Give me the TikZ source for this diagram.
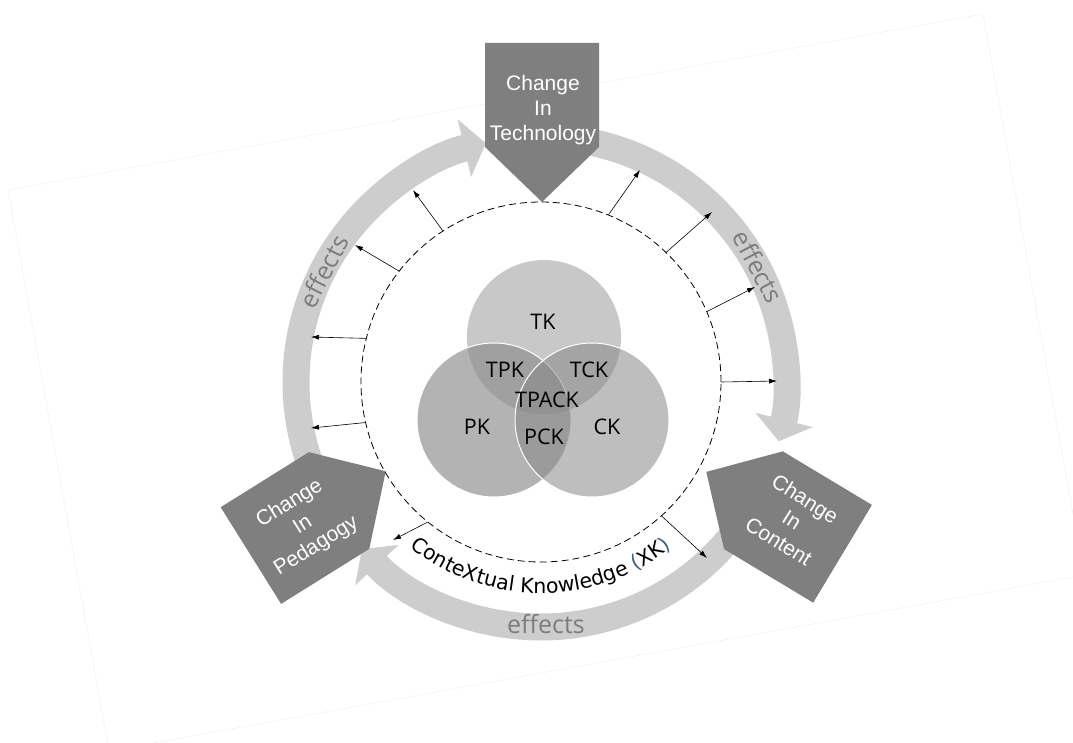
\documentclass[tikz,border=0pt]{standalone}
\usepackage{fontspec}
\setmainfont{Liberation Sans}
\newfontfamily\vennfont{Open Sans}
\newfontfamily\xkfont{DejaVu Sans}
\usetikzlibrary{arrows.meta,decorations.text}
\definecolor{boxgray}{HTML}{7F7F7F}
\definecolor{ringgray}{HTML}{CDCDCD}
\definecolor{effgray}{HTML}{7C7C7C}
\definecolor{xkblue}{HTML}{3E5F80}
\definecolor{tkgray}{HTML}{C8C8C8}
\definecolor{pkgray}{HTML}{8D8D8D}
\definecolor{ckgray}{HTML}{888888}
\newcommand{\xksize}{\xkfont\fontsize{20.5}{23}\selectfont}
\tikzset{
  changebox/.style={fill=boxgray},
  changetext/.style={text=white,align=center,font=\fontsize{21}{25}\selectfont},
  effring/.style={draw=ringgray,line width=27pt,-{Triangle[length=22pt,width=58pt]}},
  efftext/.style={text=effgray,font=\vennfont\fontsize{25}{28}\selectfont},
  venncircle/.style={circle,minimum size=154pt,inner sep=0pt},
  vennlabel/.style={font=\vennfont\fontsize{21.5}{24}\selectfont},
  outarrow/.style={-{Latex[length=8pt,width=5pt]},line width=0.6pt},
}

\begin{document}
\begin{tikzpicture}[x=1pt,y=1pt]
  \clip (-541,-360) rectangle (532,382);
  % faint tilted frame
  \draw[black!5,line width=0.6pt] (-533,192) -- (442,368) -- (543,-193) -- (-432,-369) -- cycle;

  % effects ring
  \draw[effring] (200:245) arc[start angle=200,end angle=103,radius=245];
  \draw[effring] (80:245) arc[start angle=80,end angle=-14,radius=245];
  \draw[effring] (-32:245) arc[start angle=-32,end angle=-137,radius=245];

  % change boxes
  \fill[changebox,shift={(1,287)}] (-57,52) -- (57,52) -- (57,-52) -- (0,-107) -- (-57,-52) -- cycle;
  \fill[changebox,shift={(-246,-146)},rotate=122] (-57,52) -- (57,52) -- (57,-52) -- (0,-107) -- (-57,-52) -- cycle;
  \fill[changebox,shift={(257,-145)},rotate=-121] (-57,52) -- (57,52) -- (57,-52) -- (0,-107) -- (-57,-52) -- cycle;
  \node[changetext] (tech) at (2,272) {Change\\In\\Technology};
  \node[changetext,rotate=32] (peda) at (-238,-143) {Change\\In\\Pedagogy};
  \node[changetext,rotate=-32] (cont) at (251,-138) {Change\\In\\Content};

  % contextual knowledge
  \node[circle,draw,dash pattern=on 7pt off 4pt,line width=0.8pt,minimum size=360pt,inner sep=0pt] (xk) at (0,0) {};
  \foreach \a/\x/\y in {123/-128/192, 142/-186/137, 166/-230/45, 193/-230/-46,
                        68/99/212, 46/171/170, 23/214/95, 0/236/1,
                        -48/166/-176, 231/-148/-158}
    \draw[outarrow] (xk.\a) -- (\x,\y);

  % TPACK venn
  \node[venncircle,fill=tkgray] (tk) at (3,45) {};
  \node[venncircle,fill=pkgray,fill opacity=0.67,draw=white,line width=1pt] (pk) at (-47,-38) {};
  \node[venncircle,fill=ckgray,fill opacity=0.55,draw=white,line width=1pt] (ck) at (51,-38) {};
  \node[vennlabel] (tklab) at (2,60) {TK};
  \node[vennlabel] (tpklab) at (-36,12) {TPK};
  \node[vennlabel] (tcklab) at (48,12) {TCK};
  \node[vennlabel] (tpacklab) at (6,-18) {TPACK};
  \node[vennlabel] (pklab) at (-64,-45) {PK};
  \node[vennlabel] (pcklab) at (3,-55) {PCK};
  \node[vennlabel] (cklab) at (66,-45) {CK};

  % effects labels
  \node[efftext,rotate=63] (effl) at (153:244) {effects};
  \node[efftext,rotate=-62] (effr) at (28:246) {effects};
  \node[efftext] (effb) at (5,-242) {effects};

  \path[decorate,decoration={text along path,text align=center,
      text={|\xksize|ConteXtual Knowledge |\xksize\color{xkblue}|(|\xksize\color{black}|XK|\xksize\color{xkblue}|)}}]
    (200:211) arc[start angle=200,end angle=340,radius=211];
\end{tikzpicture}
\end{document}
